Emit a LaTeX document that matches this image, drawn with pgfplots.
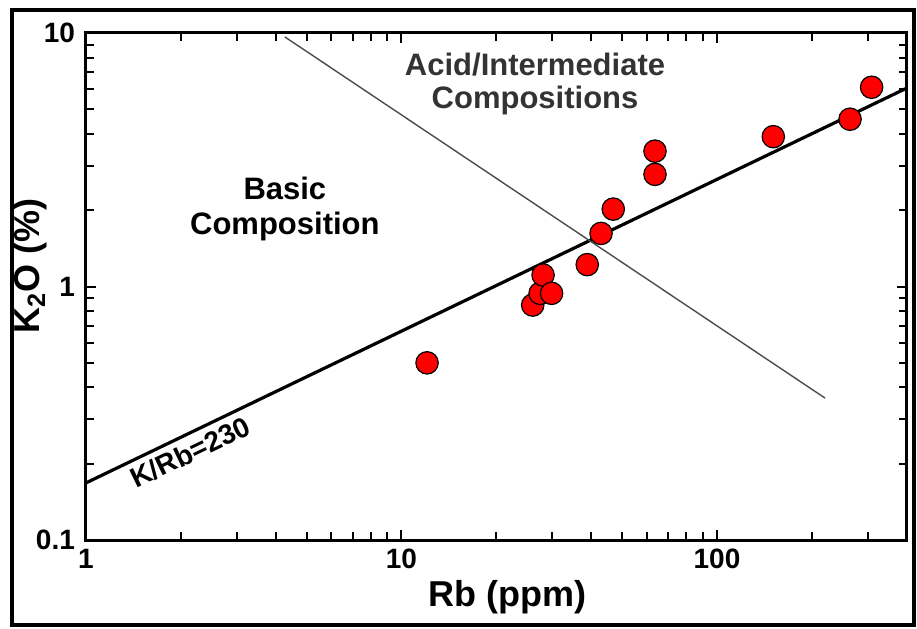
\documentclass[border=0pt]{standalone}
\usepackage{fontspec}
\setmainfont{Liberation Sans}
\usepackage{pgfplots}
\pgfplotsset{compat=1.18}

\begin{document}
\begin{tikzpicture}
\begin{loglogaxis}[
  scale only axis, width=410.5pt, height=253.5pt,
  xmin=1, xmax=400, ymin=0.1, ymax=10,
  clip=false,
  axis line style={line width=1.5pt},
  tick style={line width=1pt, black},
  major tick length=5pt, minor tick length=4pt,
  tick align=inside,
  xtick={1,10,100}, xticklabels={1,10,100},
  ytick={0.1,1,10}, yticklabels={0.1,1,10},
  minor xtick={2,3,4,5,6,7,8,9,20,30,40,50,60,70,80,90,200,300},
  minor ytick={0.2,0.3,0.4,0.5,0.6,0.7,0.8,0.9,2,3,4,5,6,7,8,9},
  tick label style={font=\bfseries\fontsize{14}{16}\selectfont},
  yticklabel style={xshift=-2pt},
  xticklabel style={yshift=-1pt},
  xlabel={Rb (ppm)},
  ylabel={K\textsubscript{2}O (\%)},
  label style={font=\bfseries\fontsize{18}{20}\selectfont},
  xlabel style={at={(axis description cs:0.514,-0.112)}, anchor=center},
  ylabel style={at={(axis description cs:-0.068,0.54)}, anchor=center},
]
% K/Rb = 230 reference line
\addplot[black, line width=1.6pt] coordinates {(1,0.168) (400,6.07)};
% basic / acid divide
\addplot[black!70, line width=0.7pt] coordinates {(4.27,9.65) (220,0.363)};
% samples
\addplot[only marks, mark=*, mark size=5.6pt,
  mark options={fill=red, draw=black, line width=0.6pt}]
  coordinates {
    (12.05,0.50) (26.05,0.845) (27.5,0.94) (28.1,1.11) (29.9,0.94)
    (38.8,1.22) (42.9,1.62) (46.9,2.02) (63.6,2.77) (63.6,3.42)
    (150.8,3.90) (264,4.57) (309,6.11)
  };
\node[font=\bfseries\fontsize{15.5}{16.5}\selectfont, text=black!80, align=center]
  at (axis cs:26.5,6.29) {Acid/Intermediate\\Compositions};
\node[font=\bfseries\fontsize{15.5}{17.5}\selectfont, align=center]
  at (axis cs:4.27,2.02) {Basic\\Composition};
\node[font=\bfseries\fontsize{14}{16}\selectfont, rotate=25.7]
  at (axis cs:2.14,0.222) {K/Rb=230};
% outer frame
\draw[line width=2pt] (rel axis cs:-0.0901,-0.1677) rectangle (rel axis cs:1.0085,1.0454);
\path (rel axis cs:-0.1047,-0.1736) rectangle (rel axis cs:1.0122,1.0651);
\end{loglogaxis}
\end{tikzpicture}
\end{document}
